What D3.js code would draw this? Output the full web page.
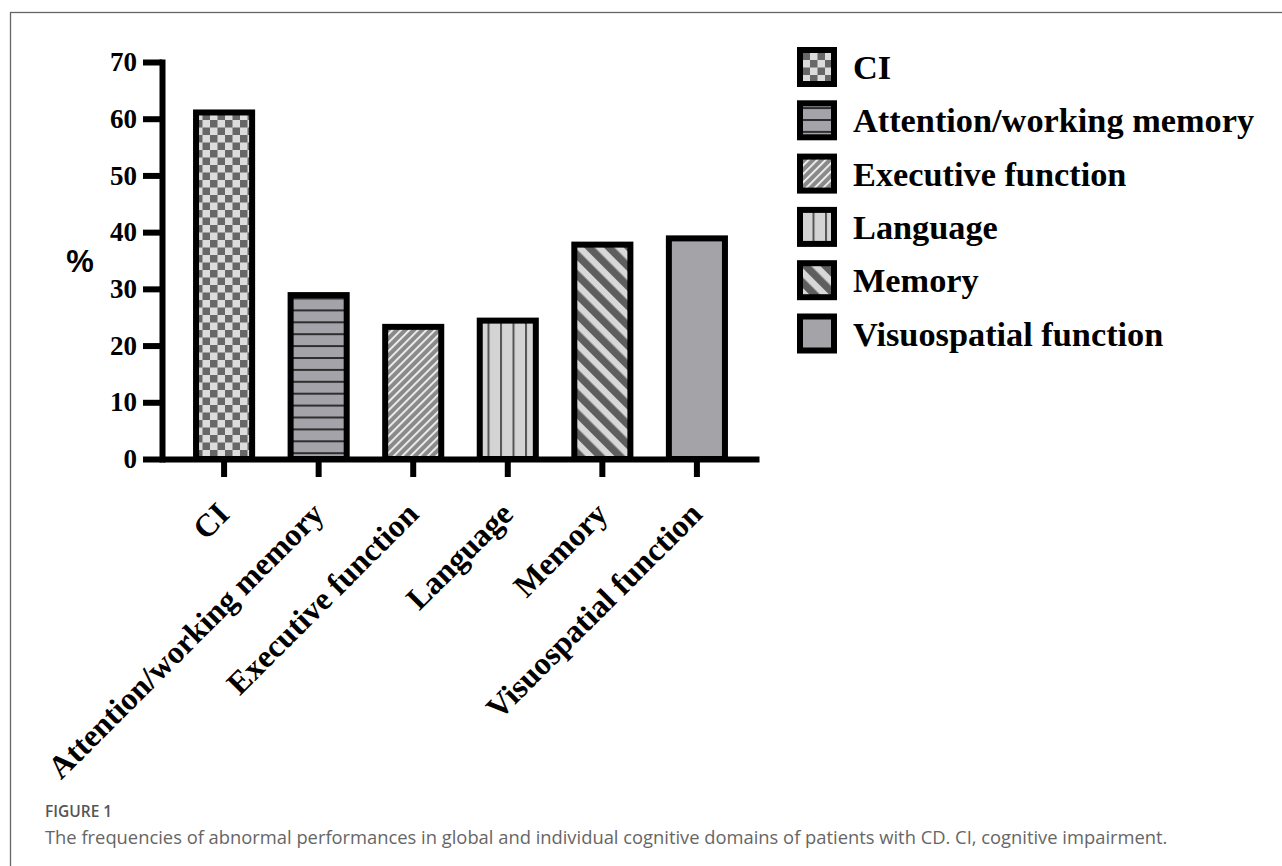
<!DOCTYPE html>
<html>
<head>
<meta charset="utf-8">
<script src="https://cdn.jsdelivr.net/npm/d3@7/dist/d3.min.js"></script>
<style>
  html, body { margin: 0; padding: 0; background: #fff; }
  svg { display: block; }
</style>
</head>
<body>
<svg id="chart" width="1282" height="866"></svg>
<script>
// ---- data ----
const categories = ["CI", "Attention/working memory", "Executive function", "Language", "Memory", "Visuospatial function"];
const values = [61.1, 28.9, 23.3, 24.4, 37.8, 38.9];
const yTicks = [0, 10, 20, 30, 40, 50, 60, 70];
const patternIds = ["pCheck", "pHoriz", "pDiag", "pVert", "pStripe", "pSolid"];
const yLabel = "%";
const figLabel = "FIGURE 1";
const caption = "The frequencies of abnormal performances in global and individual cognitive domains of patients with CD. CI, cognitive impairment.";

const svg = d3.select("#chart");
const serif = "'Liberation Serif', 'Times New Roman', serif";

// ---- frame ----
svg.append("rect").attr("x", 10.5).attr("y", 12.5).attr("width", 1400).attr("height", 1000)
  .attr("fill", "none").attr("stroke", "#666").attr("stroke-width", 1.3);

// ---- patterns ----
const defs = svg.append("defs");
let p = defs.append("pattern").attr("id", "pCheck").attr("patternUnits", "userSpaceOnUse").attr("width", 15).attr("height", 15);
p.append("rect").attr("width", 15).attr("height", 15).attr("fill", "#dcdcdc");
p.append("rect").attr("width", 7.5).attr("height", 7.5).attr("fill", "#676767");
p.append("rect").attr("x", 7.5).attr("y", 7.5).attr("width", 7.5).attr("height", 7.5).attr("fill", "#676767");
p = defs.append("pattern").attr("id", "pHoriz").attr("patternUnits", "userSpaceOnUse").attr("width", 12).attr("height", 11.9);
p.append("rect").attr("width", 12).attr("height", 11.9).attr("fill", "#a3a3a9");
p.append("rect").attr("y", 0).attr("width", 12).attr("height", 2).attr("fill", "#2e2e2e");
p = defs.append("pattern").attr("id", "pDiag").attr("patternUnits", "userSpaceOnUse").attr("width", 6).attr("height", 10)
  .attr("patternTransform", "rotate(45)");
p.append("rect").attr("width", 6).attr("height", 10).attr("fill", "#8a8a8a");
p.append("rect").attr("width", 1.8).attr("height", 10).attr("fill", "#f4f4f4");
p = defs.append("pattern").attr("id", "pVert").attr("patternUnits", "userSpaceOnUse").attr("width", 12.5).attr("height", 10);
p.append("rect").attr("width", 12.5).attr("height", 10).attr("fill", "#d4d4d4");
p.append("rect").attr("x", 0).attr("width", 2).attr("height", 10).attr("fill", "#555");
p = defs.append("pattern").attr("id", "pStripe").attr("patternUnits", "userSpaceOnUse").attr("width", 14).attr("height", 10)
  .attr("patternTransform", "rotate(-45)");
p.append("rect").attr("width", 14).attr("height", 10).attr("fill", "#d8d8d8");
p.append("rect").attr("width", 7.5).attr("height", 10).attr("fill", "#5e5e5e");
p = defs.append("pattern").attr("id", "pSolid").attr("patternUnits", "userSpaceOnUse").attr("width", 10).attr("height", 10);
p.append("rect").attr("width", 10).attr("height", 10).attr("fill", "#a3a3a8");

// ---- scales ----
const y = d3.scaleLinear().domain([0, 70]).range([459, 62]);
const x = d3.scaleBand().domain(categories).range([162, 759]).paddingInner(0.407).paddingOuter(0.36);

// ---- bars ----
svg.append("g").selectAll("rect").data(categories).join("rect")
  .attr("x", d => x(d))
  .attr("width", x.bandwidth())
  .attr("y", (d, i) => y(values[i]))
  .attr("height", (d, i) => y(0) - y(values[i]))
  .attr("fill", (d, i) => `url(#${patternIds[i]})`)
  .attr("stroke", "#000").attr("stroke-width", 6);

// ---- y axis ----
const gy = svg.append("g").attr("transform", "translate(162,0)")
  .call(d3.axisLeft(y).tickValues(yTicks).tickSize(19).tickSizeOuter(0).tickPadding(6).tickFormat(d3.format("d")));
gy.select(".domain").attr("stroke-width", 6).attr("stroke-linecap", "square");
gy.selectAll(".tick line").attr("stroke-width", 6);
gy.selectAll(".tick text").attr("font-family", serif).attr("font-weight", "bold").attr("font-size", 27).attr("fill", "#000");

// ---- x axis ----
const gx = svg.append("g").attr("transform", "translate(0,459)")
  .call(d3.axisBottom(x).tickSize(18).tickSizeOuter(0));
gx.select(".domain").attr("stroke-width", 6);
gx.selectAll(".tick line").attr("stroke-width", 6);
gx.selectAll(".tick text")
  .attr("font-family", serif).attr("font-weight", "bold").attr("font-size", 32).attr("fill", "#000")
  .attr("text-anchor", "end").attr("dy", 0)
  .attr("transform", "translate(7,57) rotate(-45)")
  .attr("y", 0).attr("x", 0);

// ---- y label ----
svg.append("text").attr("x", 80).attr("y", 272).attr("text-anchor", "middle")
  .attr("font-family", "'Liberation Sans', Arial, sans-serif").attr("font-weight", "bold").attr("font-size", 31).text(yLabel);

// ---- legend ----
const lg = svg.append("g");
categories.forEach((c, i) => {
  const yy = 50 + i * 53.3;
  lg.append("rect").attr("x", 800).attr("y", yy).attr("width", 34).attr("height", 34)
    .attr("fill", `url(#${patternIds[i]})`).attr("stroke", "#000").attr("stroke-width", 6);
  lg.append("text").attr("x", 853).attr("y", yy + 29)
    .attr("font-family", serif).attr("font-weight", "bold").attr("font-size", 34.3).text(c);
});

// ---- caption ----
svg.append("text").attr("x", 45).attr("y", 817)
  .attr("font-family", "'Open Sans', sans-serif").attr("font-weight", 600).attr("font-size", 15.5)
  .attr("fill", "#555").text(figLabel);
svg.append("text").attr("x", 45).attr("y", 844)
  .attr("font-family", "'Open Sans', sans-serif").attr("font-size", 18.35).attr("fill", "#666").text(caption);
</script>
</body>
</html>
